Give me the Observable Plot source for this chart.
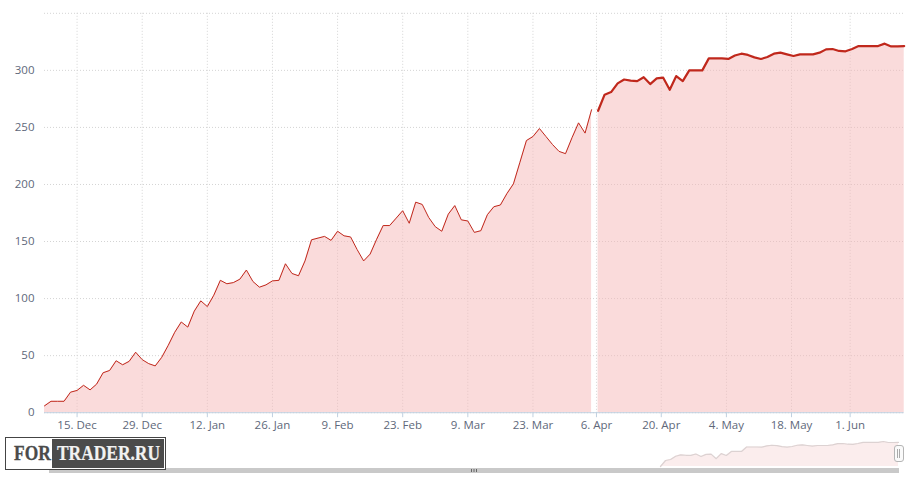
<!DOCTYPE html>
<html><head><meta charset="utf-8">
<script src="https://cdn.jsdelivr.net/npm/d3@7"></script>
<script src="https://cdn.jsdelivr.net/npm/@observablehq/plot@0.6"></script>
<style>
html,body{margin:0;padding:0;background:#fff;width:912px;height:480px;overflow:hidden;font-family:"Open Sans",sans-serif}
#wrap{position:relative;width:912px;height:480px}
#main,#nav{position:absolute;left:0}
#main{top:0}#nav{top:432px}
svg{display:block;background:transparent!important}
.bar{position:absolute;left:49px;top:468px;width:850px;height:5px;background:#c9c9c9}
.grip{position:absolute;left:471px;top:469px;width:1px;height:3px;background:#666;box-shadow:2.5px 0 0 #666,5px 0 0 #666}
.handle{position:absolute;left:894px;top:445px;width:8px;height:15px;border:1px solid #b5b5b5;border-radius:3px;background:#fafafa}
.handle:after{content:"";position:absolute;left:2px;top:3px;width:1px;height:9px;background:#aaa;box-shadow:2px 0 0 #aaa}
.logo{position:absolute;left:5px;top:437px;width:159px;height:31px;background:#fff;border:1px solid #444;font:bold 20px "Liberation Serif",serif;line-height:31px;overflow:hidden}
.logo .a{position:absolute;left:8px;top:0;color:#4b4b4b;transform:scaleX(.87);transform-origin:0 50%;-webkit-text-stroke:.3px #4b4b4b}
.logo .back{position:absolute;left:46px;top:1px;right:1px;bottom:1px;background:#4b4b4b}
.logo .b{position:absolute;left:51px;top:0;color:#f2f2f2;white-space:nowrap;transform:scaleX(.87);transform-origin:0 50%;-webkit-text-stroke:.2px #f2f2f2}
</style></head><body>
<div id="wrap"><div id="main"></div><div id="nav"></div>
<div class="bar"></div><div class="grip"></div><div class="handle"></div>
<div class="logo"><span class="a">FOR</span><span class="back"></span><span class="b">TRADER.RU</span></div></div>
<script>
const earlyValues=[6,10,10,10,18,19.5,24,20,25,35,37,45.5,42,45,53,46.5,43,41,48.5,59,70.5,79.5,75,89,98,93,103,116,113,114,117,125,115,110,112,115.5,116,130.5,122,120,133,151.5,153,154.5,151,159,155,154,143,133,139,152,164,164,170.5,177,166,184.5,182.5,171,163,159,174,181.5,169,168,158,159.5,173.5,180.5,182,192,200.5,219.5,238.5,242,249,242,235,229,227,241,254,245,265.5];
const lateValues=[264.6,278.7,281,288.6,292,291,290.6,294,288,293,293.6,283,295,290.6,300,300,300,310.5,310.5,310.5,310,313,314.6,313.5,311.4,310,311.7,314.6,315.5,314,312.6,314,314,314,315.5,318.4,318.7,317,316.7,318.7,321.3,321.3,321.3,321.3,323.4,321,321,321.3];
const lateStart=85;
const tickPositions=[5,15,25,35,45,55,65,75,84.75,94.7,104.7,114.7,123.7];
const tickLabels=["15. Dec","29. Dec","12. Jan","26. Jan","9. Feb","23. Feb","9. Mar","23. Mar","6. Apr","20. Apr","4. May","18. May","1. Jun"];
const yTicks=[0,50,100,150,200,250,300,350];
const yLabelled=[0,50,100,150,200,250,300];

const early=earlyValues.map((v,i)=>({i,v}));
const late=lateValues.map((v,j)=>({i:lateStart+j,j,v}));
const labelOf=new Map(tickPositions.map((p,k)=>[p,tickLabels[k]]));
const TXT="#60687a",FILL="#f5b7b7",LINE="#c0281c",GRID="#d4d4d4";

const main=Plot.plot({
  width:912,height:432,marginLeft:44,marginRight:8.3,marginTop:12.8,marginBottom:19.8,
  style:{fontFamily:'"Open Sans",sans-serif',fontSize:"11.5px",color:TXT,background:"transparent"},
  x:{domain:[0,132],label:null,axis:null},
  y:{domain:[0,350],label:null,axis:null},
  marks:[
    Plot.ruleY(yTicks,{stroke:GRID,strokeDasharray:"1 2",strokeWidth:1}),
    Plot.ruleX(tickPositions,{stroke:GRID,strokeDasharray:"1 2",strokeWidth:1}),
    Plot.areaY(early,{x:"i",y:"v",fill:FILL,fillOpacity:.5}),
    Plot.areaY(late,{x:"i",y:"v",fill:FILL,fillOpacity:.5}),
    Plot.ruleY([0],{stroke:"#c0d0e0",strokeWidth:1}),
    Plot.lineY(early,{x:"i",y:"v",stroke:LINE,strokeWidth:1,strokeLinejoin:"round"}),
    Plot.lineY(late,{x:"i",y:"v",stroke:LINE,strokeWidth:2.2,strokeLinejoin:"round"}),
    Plot.axisX({ticks:tickPositions,tickFormat:d=>labelOf.get(d),tickSize:5,tickPadding:3,stroke:"#c0d0e0",fill:TXT,label:null,fontSize:11.5}),
    Plot.axisY({ticks:yLabelled,tickSize:0,tickPadding:10,fill:TXT,label:null,fontSize:11.5})
  ]
});
document.getElementById("main").append(main);

const navFloor=d3.min(lateValues);
const nav=Plot.plot({
  width:912,height:48,marginLeft:660,marginRight:14,marginTop:9,marginBottom:14,
  style:{background:"transparent"},
  x:{domain:[0,lateValues.length-1],axis:null,label:null},
  y:{domain:[navFloor,d3.max(lateValues)],axis:null,label:null},
  marks:[
    Plot.areaY(late,{x:"j",y1:()=>navFloor,y2:"v",fill:"#fbeded",fillOpacity:1}),
    Plot.lineY(late,{x:"j",y:"v",stroke:"#dcd2d2",strokeWidth:1.2})
  ]
});
document.getElementById("nav").append(nav);
</script></body></html>
